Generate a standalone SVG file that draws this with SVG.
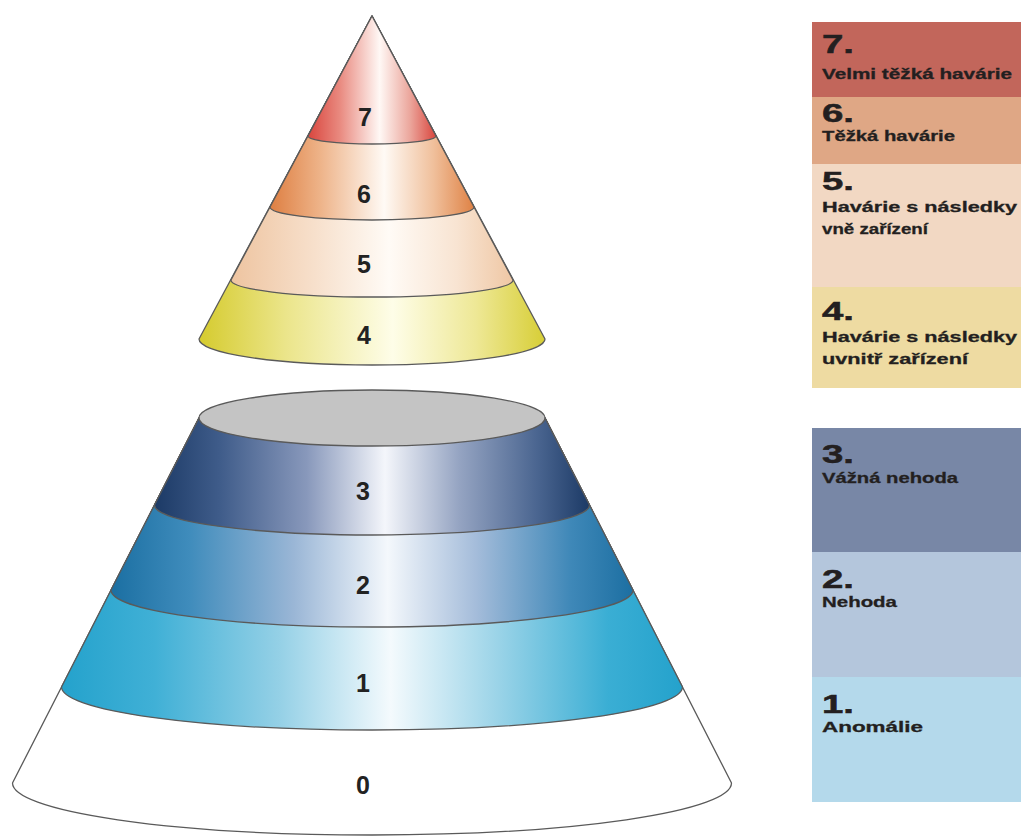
<svg xmlns="http://www.w3.org/2000/svg" width="1021" height="837" viewBox="0 0 1021 837">
<defs>
<style>
.band{stroke:#5a5a5a;stroke-width:1.3;stroke-linejoin:round}
.lvl{font-family:"Liberation Sans",Arial,sans-serif;font-weight:bold;font-size:25px;fill:#222;text-anchor:middle}
.num{font-family:"Liberation Sans",Arial,sans-serif;font-weight:bold;font-size:25px;fill:#231f20;stroke:#231f20;stroke-width:0.5}
.lbl{font-family:"Liberation Sans",Arial,sans-serif;font-weight:bold;font-size:15px;fill:#231f20;stroke:#231f20;stroke-width:0.3}
</style>
<linearGradient id="g7" x1="0" y1="0" x2="1" y2="0">
<stop offset="0" stop-color="#d9463e"/><stop offset="0.25" stop-color="#e98a80"/><stop offset="0.56" stop-color="#fff8f5"/><stop offset="0.8" stop-color="#eba59b"/><stop offset="1" stop-color="#d9463e"/>
</linearGradient>
<linearGradient id="g6" x1="0" y1="0" x2="1" y2="0">
<stop offset="0" stop-color="#de7f42"/><stop offset="0.25" stop-color="#eeb48a"/><stop offset="0.56" stop-color="#fffaf5"/><stop offset="0.8" stop-color="#f0c09c"/><stop offset="1" stop-color="#df8245"/>
</linearGradient>
<linearGradient id="g5" x1="0" y1="0" x2="1" y2="0">
<stop offset="0" stop-color="#eec4a0"/><stop offset="0.3" stop-color="#f7e0cc"/><stop offset="0.56" stop-color="#fffbf6"/><stop offset="0.8" stop-color="#f8e4d2"/><stop offset="1" stop-color="#efc7a4"/>
</linearGradient>
<linearGradient id="g4" x1="0" y1="0" x2="1" y2="0">
<stop offset="0" stop-color="#d5cb2e"/><stop offset="0.25" stop-color="#ebe58a"/><stop offset="0.56" stop-color="#fefde8"/><stop offset="0.8" stop-color="#eee896"/><stop offset="1" stop-color="#d7ce36"/>
</linearGradient>
<linearGradient id="g3" x1="0" y1="0" x2="1" y2="0">
<stop offset="0" stop-color="#1c3a66"/><stop offset="0.15" stop-color="#3f5c8a"/><stop offset="0.35" stop-color="#8898bb"/><stop offset="0.53" stop-color="#f4f6fb"/><stop offset="0.7" stop-color="#95a4c2"/><stop offset="0.88" stop-color="#4a6590"/><stop offset="1" stop-color="#1c3a66"/>
</linearGradient>
<linearGradient id="g2" x1="0" y1="0" x2="1" y2="0">
<stop offset="0" stop-color="#1b6fa2"/><stop offset="0.15" stop-color="#3f8cbc"/><stop offset="0.35" stop-color="#9ab6d6"/><stop offset="0.53" stop-color="#f4f8fc"/><stop offset="0.7" stop-color="#a4bcda"/><stop offset="0.88" stop-color="#3f88b8"/><stop offset="1" stop-color="#1c6fa2"/>
</linearGradient>
<linearGradient id="g1" x1="0" y1="0" x2="1" y2="0">
<stop offset="0" stop-color="#24a2cc"/><stop offset="0.15" stop-color="#40b0d6"/><stop offset="0.35" stop-color="#94d0e6"/><stop offset="0.53" stop-color="#f4fafd"/><stop offset="0.7" stop-color="#9cd4e8"/><stop offset="0.88" stop-color="#3aaed4"/><stop offset="1" stop-color="#24a2cc"/>
</linearGradient>
</defs>
<rect width="1021" height="837" fill="#ffffff"/>

<g id="upper-cone">
<path id="band4" class="band" fill="url(#g4)" d="M372,16 L199,339 A173,26 0 0 0 545,339 Z"/>
<path id="band5" class="band" fill="url(#g5)" d="M372,16 L231,280 A141,17 0 0 0 513,280 Z"/>
<path id="band6" class="band" fill="url(#g6)" d="M372,16 L270,207 A102,13 0 0 0 474,207 Z"/>
<path id="band7" class="band" fill="url(#g7)" d="M372,16 L308,136 A64,8 0 0 0 436,136 Z"/>
<text class="lvl" x="365" y="126">7</text>
<text class="lvl" x="364" y="203">6</text>
<text class="lvl" x="364" y="273">5</text>
<text class="lvl" x="364" y="344">4</text>
</g>

<g id="lower-cone">
<path id="band0" class="band" fill="#ffffff" d="M199,418 L12.5,783 A359.5,52 0 0 0 731.5,783 L545,418 Z"/>
<path id="band1" class="band" fill="url(#g1)" d="M199,418 L61.5,687 A310.5,43 0 0 0 682.5,687 L545,418 Z"/>
<path id="band2" class="band" fill="url(#g2)" d="M199,418 L111,590 A261,37 0 0 0 633,590 L545,418 Z"/>
<path id="band3" class="band" fill="url(#g3)" d="M199,418 L154.5,505 A217.5,30 0 0 0 589.5,505 L545,418 Z"/>
<ellipse id="top" class="band" cx="372" cy="418" rx="173" ry="28" fill="#c4c4c4"/>
<text class="lvl" x="363" y="500">3</text>
<text class="lvl" x="363" y="594">2</text>
<text class="lvl" x="363" y="692">1</text>
<text class="lvl" x="363" y="794">0</text>
</g>

<g id="legend-upper">
<g id="leg7"><rect x="812" y="22" width="209" height="75" fill="#c2665b"/>
<text class="num" x="822" y="53" textLength="32" lengthAdjust="spacingAndGlyphs">7.</text>
<text class="lbl" x="822" y="79" textLength="190" lengthAdjust="spacingAndGlyphs">Velmi těžká havárie</text></g>
<g id="leg6"><rect x="812" y="97" width="209" height="67" fill="#dfa785"/>
<text class="num" x="822" y="122" textLength="32" lengthAdjust="spacingAndGlyphs">6.</text>
<text class="lbl" x="822" y="141" textLength="133" lengthAdjust="spacingAndGlyphs">Těžká havárie</text></g>
<g id="leg5"><rect x="812" y="164" width="209" height="123" fill="#f2d8c3"/>
<text class="num" x="822" y="190" textLength="32" lengthAdjust="spacingAndGlyphs">5.</text>
<text class="lbl" x="822" y="212" textLength="195" lengthAdjust="spacingAndGlyphs">Havárie s následky</text>
<text class="lbl" x="822" y="234" textLength="106" lengthAdjust="spacingAndGlyphs">vně zařízení</text></g>
<g id="leg4"><rect x="812" y="287" width="209" height="101" fill="#eedba2"/>
<text class="num" x="822" y="320" textLength="32" lengthAdjust="spacingAndGlyphs">4.</text>
<text class="lbl" x="822" y="342" textLength="195" lengthAdjust="spacingAndGlyphs">Havárie s následky</text>
<text class="lbl" x="822" y="364" textLength="146" lengthAdjust="spacingAndGlyphs">uvnitř zařízení</text></g>
</g>

<g id="legend-lower">
<g id="leg3"><rect x="812" y="428" width="209" height="124" fill="#7887a6"/>
<text class="num" x="822" y="463" textLength="32" lengthAdjust="spacingAndGlyphs">3.</text>
<text class="lbl" x="822" y="483" textLength="136" lengthAdjust="spacingAndGlyphs">Vážná nehoda</text></g>
<g id="leg2"><rect x="812" y="552" width="209" height="125" fill="#b4c6dc"/>
<text class="num" x="822" y="588" textLength="32" lengthAdjust="spacingAndGlyphs">2.</text>
<text class="lbl" x="822" y="607" textLength="75" lengthAdjust="spacingAndGlyphs">Nehoda</text></g>
<g id="leg1"><rect x="812" y="677" width="209" height="125" fill="#b4d9eb"/>
<text class="num" x="822" y="713" textLength="32" lengthAdjust="spacingAndGlyphs">1.</text>
<text class="lbl" x="822" y="732" textLength="101" lengthAdjust="spacingAndGlyphs">Anomálie</text></g>
</g>
<g id="connectors"/>
</svg>
